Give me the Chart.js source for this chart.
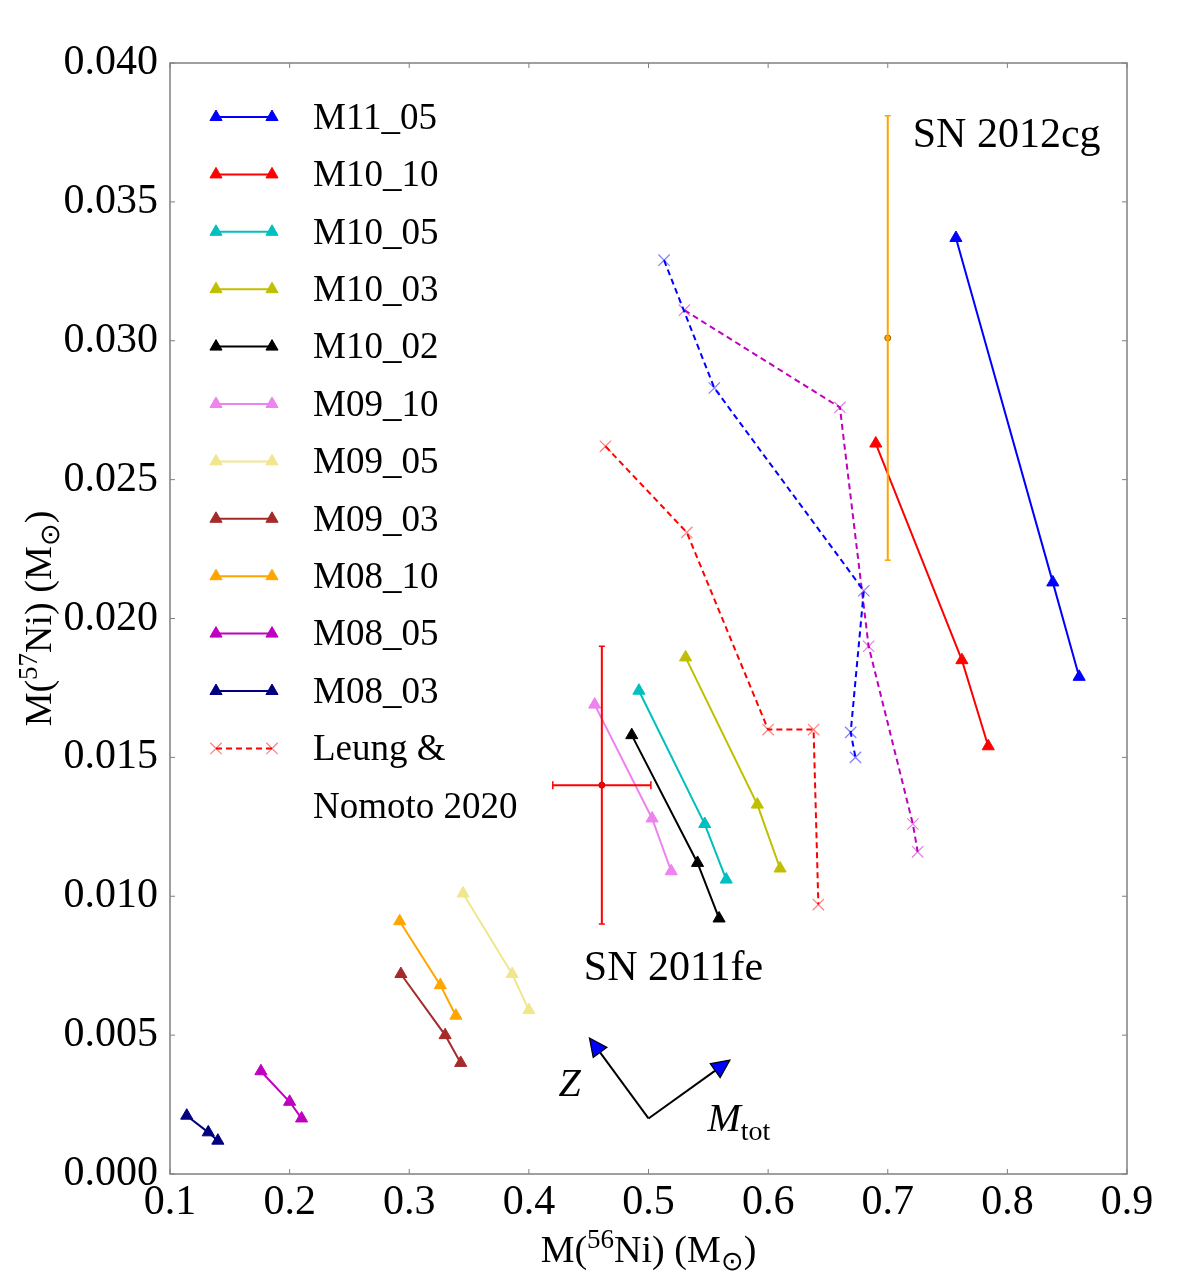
<!DOCTYPE html>
<html>
<head>
<meta charset="utf-8">
<script src="https://cdn.jsdelivr.net/npm/chart.js@4/dist/chart.umd.min.js"></script>
<style>
  html, body { margin: 0; padding: 0; background: #fff; }
  canvas { display: block; }
</style>
</head>
<body>
<canvas id="c" width="1200" height="1284"></canvas>
<script>
// model tracks (M56Ni vs M57Ni), three metallicities each
const models = ['M11_05', 'M10_10', 'M10_05', 'M10_03', 'M10_02', 'M09_10',
                'M09_05', 'M09_03', 'M08_10', 'M08_05', 'M08_03'];
const modelNi56 = [
  [0.757, 0.838, 0.860],
  [0.690, 0.762, 0.784],
  [0.492, 0.547, 0.565],
  [0.531, 0.591, 0.610],
  [0.486, 0.541, 0.559],
  [0.455, 0.503, 0.519],
  [0.345, 0.386, 0.400],
  [0.293, 0.330, 0.343],
  [0.292, 0.326, 0.339],
  [0.176, 0.200, 0.210],
  [0.114, 0.132, 0.140]
];
const modelNi57 = [
  [0.0337, 0.0213, 0.0179],
  [0.0263, 0.0185, 0.0154],
  [0.0174, 0.0126, 0.0106],
  [0.0186, 0.0133, 0.0110],
  [0.0158, 0.0112, 0.0092],
  [0.0169, 0.0128, 0.0109],
  [0.0101, 0.0072, 0.0059],
  [0.0072, 0.0050, 0.0040],
  [0.0091, 0.0068, 0.0057],
  [0.0037, 0.0026, 0.0020],
  [0.0021, 0.0015, 0.0012]
];
const modelColors = ['#0000ff', '#ff0000', '#00bfbf', '#bfbf00', '#000000', '#ee82ee',
                     '#f0e68c', '#a52a2a', '#ffa500', '#bf00bf', '#000080'];

// Leung & Nomoto 2020 tracks
const leungNi56 = [
  [0.513, 0.555, 0.680, 0.669, 0.673],
  [0.530, 0.660, 0.684, 0.721, 0.725],
  [0.464, 0.532, 0.600, 0.638, 0.642]
];
const leungNi57 = [
  [0.0329, 0.0283, 0.0210, 0.0159, 0.0150],
  [0.0311, 0.0276, 0.0190, 0.0126, 0.0116],
  [0.0262, 0.0231, 0.0160, 0.0160, 0.0097]
];
const leungColors = ['#0000ff', '#bf00bf', '#ff0000'];
const leungMarkColors = ['rgba(0,0,255,0.5)', 'rgba(191,0,191,0.5)', 'rgba(255,0,0,0.5)'];

// observed SNe
const obsNames = ['SN 2011fe', 'SN 2012cg'];
const obsNi56 = [0.461, 0.700];
const obsNi56Err = [0.041, 0];
const obsNi57 = [0.0140, 0.0301];
const obsNi57Err = [0.0050, 0.0080];
const obsColors = ['#ff0000', '#ffa500'];

// direction arrows (data coords)
const arrowBase = [0.500, 0.0020];
const arrowZ = [0.4506, 0.0049];
const arrowMtot = [0.568, 0.0041];

const xTicks = [0.1, 0.2, 0.3, 0.4, 0.5, 0.6, 0.7, 0.8, 0.9];
const yTicks = [0.000, 0.005, 0.010, 0.015, 0.020, 0.025, 0.030, 0.035, 0.040];

const SERIF = '"Liberation Serif", "Times New Roman", serif';

const pts = (xs, ys) => xs.map((x, i) => ({ x: x, y: ys[i] }));

const datasets = [];

obsNames.forEach((name, i) => {
  const c = obsColors[i];
  if (obsNi56Err[i] > 0) {
    datasets.push({
      label: name + ' xerr', data: [{ x: obsNi56[i] - obsNi56Err[i], y: obsNi57[i] }, { x: obsNi56[i] + obsNi56Err[i], y: obsNi57[i] }],
      borderColor: c, backgroundColor: c, borderWidth: 2, pointStyle: 'line', pointRotation: 90,
      pointRadius: 4, pointBorderWidth: 1.5, showLine: true
    });
  }
  datasets.push({
    label: name + ' yerr', data: [{ x: obsNi56[i], y: obsNi57[i] - obsNi57Err[i] }, { x: obsNi56[i], y: obsNi57[i] + obsNi57Err[i] }],
    borderColor: c, backgroundColor: c, borderWidth: 2, pointStyle: 'line',
    pointRadius: 3, pointBorderWidth: 1.5, showLine: true
  });
  datasets.push({
    label: name, data: [{ x: obsNi56[i], y: obsNi57[i] }],
    borderColor: i === 1 ? '#a06000' : '#b00000', backgroundColor: c, pointStyle: 'circle',
    pointRadius: 3, pointBorderWidth: 1, showLine: false
  });
});

leungNi56.forEach((xs, i) => {
  datasets.push({
    label: 'Leung & Nomoto 2020', legendRow: i === 2 ? 11 : -1, data: pts(xs, leungNi57[i]),
    borderColor: leungColors[i], backgroundColor: leungMarkColors[i],
    pointBorderColor: leungMarkColors[i], borderWidth: 2, borderDash: [6, 4],
    pointStyle: 'crossRot', pointRadius: 8, pointBorderWidth: 1.2, showLine: true
  });
});

models.forEach((name, i) => {
  datasets.push({
    label: name, legendRow: i, data: pts(modelNi56[i], modelNi57[i]),
    borderColor: modelColors[i], backgroundColor: modelColors[i],
    borderWidth: 2, pointStyle: 'triangle', pointRadius: 7, pointBorderWidth: 1, showLine: true
  });
});

function drawRich(ctx, parts, x, y, size, align) {
  // parts: [text, mode] mode: '', 'sup', 'sub', 'i'
  const fontFor = p => (p[1] === 'i' ? 'italic ' : '') + (p[1] === 'sup' || p[1] === 'sub' ? Math.round(size * 0.7) : size) + 'px ' + SERIF;
  let w = 0;
  parts.forEach(p => { ctx.font = fontFor(p); w += ctx.measureText(p[0]).width; });
  let cx = align === 'center' ? x - w / 2 : x;
  ctx.textAlign = 'left';
  ctx.textBaseline = 'alphabetic';
  parts.forEach(p => {
    ctx.font = fontFor(p);
    const dy = p[1] === 'sup' ? -size * 0.38 : p[1] === 'sub' ? size * 0.22 : 0;
    ctx.fillText(p[0], cx, y + dy);
    cx += ctx.measureText(p[0]).width;
  });
}

function drawArrow(ctx, x0, y0, x1, y1) {
  const ang = Math.atan2(y1 - y0, x1 - x0);
  const hl = 18, hw = 8.5;
  const bx = x1 - Math.cos(ang) * hl, by = y1 - Math.sin(ang) * hl;
  ctx.strokeStyle = '#000';
  ctx.lineWidth = 2;
  ctx.beginPath(); ctx.moveTo(x0, y0); ctx.lineTo(bx, by); ctx.stroke();
  ctx.beginPath();
  ctx.moveTo(x1, y1);
  ctx.lineTo(bx - Math.sin(ang) * hw, by + Math.cos(ang) * hw);
  ctx.lineTo(bx + Math.sin(ang) * hw, by - Math.cos(ang) * hw);
  ctx.closePath();
  ctx.fillStyle = '#0000ff';
  ctx.fill();
  ctx.lineWidth = 1.2;
  ctx.stroke();
}

const decor = {
  id: 'decor',
  afterDatasetsDraw(chart) {
    const ctx = chart.ctx, a = chart.chartArea;
    const xs = chart.scales.x, ys = chart.scales.y;
    ctx.save();
    // frame + inward ticks
    ctx.strokeStyle = '#808080';
    ctx.lineWidth = 1.5;
    ctx.strokeRect(a.left, a.top, a.right - a.left, a.bottom - a.top);
    ctx.lineWidth = 1;
    ctx.beginPath();
    xTicks.forEach(v => {
      const p = xs.getPixelForValue(v);
      ctx.moveTo(p, a.bottom); ctx.lineTo(p, a.bottom - 5);
      ctx.moveTo(p, a.top); ctx.lineTo(p, a.top + 5);
    });
    yTicks.forEach(v => {
      const p = ys.getPixelForValue(v);
      ctx.moveTo(a.left, p); ctx.lineTo(a.left + 5, p);
      ctx.moveTo(a.right, p); ctx.lineTo(a.right - 5, p);
    });
    ctx.stroke();

    // legend
    const lx0 = a.left + 46, lx1 = a.left + 102, tx = a.left + 143, ly0 = a.top + 54, step = 57.4;
    chart.data.datasets.forEach(ds => {
      if (!(ds.legendRow >= 0)) return;
      const y = ly0 + ds.legendRow * step;
      ctx.strokeStyle = ds.borderColor;
      ctx.lineWidth = ds.borderWidth;
      ctx.setLineDash(ds.borderDash || []);
      ctx.beginPath(); ctx.moveTo(lx0, y); ctx.lineTo(lx1, y); ctx.stroke();
      ctx.setLineDash([]);
      const popt = {
        pointStyle: ds.pointStyle, radius: ds.pointRadius, rotation: 0,
        borderWidth: ds.pointBorderWidth
      };
      ctx.fillStyle = ds.backgroundColor;
      ctx.strokeStyle = ds.pointBorderColor || ds.borderColor;
      ctx.lineWidth = ds.pointBorderWidth;
      Chart.helpers.drawPoint(ctx, popt, lx0, y);
      Chart.helpers.drawPoint(ctx, popt, lx1, y);
      ctx.fillStyle = '#000';
      ctx.font = '37px ' + SERIF;
      ctx.textAlign = 'left';
      ctx.textBaseline = 'middle';
      if (ds.pointStyle === 'crossRot') {
        ctx.fillText('Leung &', tx, y + 2);
        ctx.fillText('Nomoto 2020', tx, y + 2 + step);
      } else {
        ctx.fillText(ds.label, tx, y + 2);
      }
    });

    // SN labels
    ctx.fillStyle = '#000';
    ctx.font = '42px ' + SERIF;
    ctx.textAlign = 'left';
    ctx.textBaseline = 'alphabetic';
    ctx.fillText(obsNames[1], xs.getPixelForValue(obsNi56[1]) + 25, a.top + 84);
    ctx.fillText(obsNames[0], xs.getPixelForValue(obsNi56[0]) - 18, ys.getPixelForValue(obsNi57[0] - obsNi57Err[0]) + 56);

    // arrows
    const bx = xs.getPixelForValue(arrowBase[0]), by = ys.getPixelForValue(arrowBase[1]);
    drawArrow(ctx, bx, by, xs.getPixelForValue(arrowZ[0]), ys.getPixelForValue(arrowZ[1]));
    drawArrow(ctx, bx, by, xs.getPixelForValue(arrowMtot[0]), ys.getPixelForValue(arrowMtot[1]));
    ctx.fillStyle = '#000';
    drawRich(ctx, [['Z', 'i']], bx - 90, by - 22, 40, 'left');
    drawRich(ctx, [['M', 'i'], ['tot', 'sub']], bx + 59, by + 13, 40, 'left');

    // axis titles
    drawRich(ctx, [['M(', ''], ['56', 'sup'], ['Ni) (M', ''], ['\u2299', 'sub'], [')', '']],
      (a.left + a.right) / 2, 1262, 38, 'center');
    ctx.translate(51, (a.top + a.bottom) / 2);
    ctx.rotate(-Math.PI / 2);
    drawRich(ctx, [['M(', ''], ['57', 'sup'], ['Ni) (M', ''], ['\u2299', 'sub'], [')', '']],
      0, 0, 38, 'center');
    ctx.restore();
  }
};

new Chart(document.getElementById('c'), {
  type: 'line',
  data: { datasets: datasets },
  options: {
    responsive: false,
    animation: false,
    devicePixelRatio: 1,
    layout: { padding: { top: 63, right: 73, left: 0, bottom: 0 } },
    elements: { line: { tension: 0 } },
    scales: {
      x: {
        type: 'linear', min: 0.1, max: 0.9,
        afterBuildTicks: s => { s.ticks = xTicks.map(v => ({ value: v })); },
        afterFit: s => { s.height = 110; },
        ticks: { color: '#000', font: { family: SERIF, size: 42 }, padding: 4, callback: v => v.toFixed(1) },
        grid: { display: false, drawTicks: false },
        border: { display: false }
      },
      y: {
        type: 'linear', min: 0, max: 0.04,
        afterBuildTicks: s => { s.ticks = yTicks.map(v => ({ value: v })); },
        afterFit: s => { s.width = 170; },
        ticks: { color: '#000', font: { family: SERIF, size: 42 }, padding: 12, callback: v => v.toFixed(3) },
        grid: { display: false, drawTicks: false },
        border: { display: false }
      }
    },
    plugins: { legend: { display: false }, tooltip: { enabled: false } }
  },
  plugins: [decor]
});
</script>
</body>
</html>
